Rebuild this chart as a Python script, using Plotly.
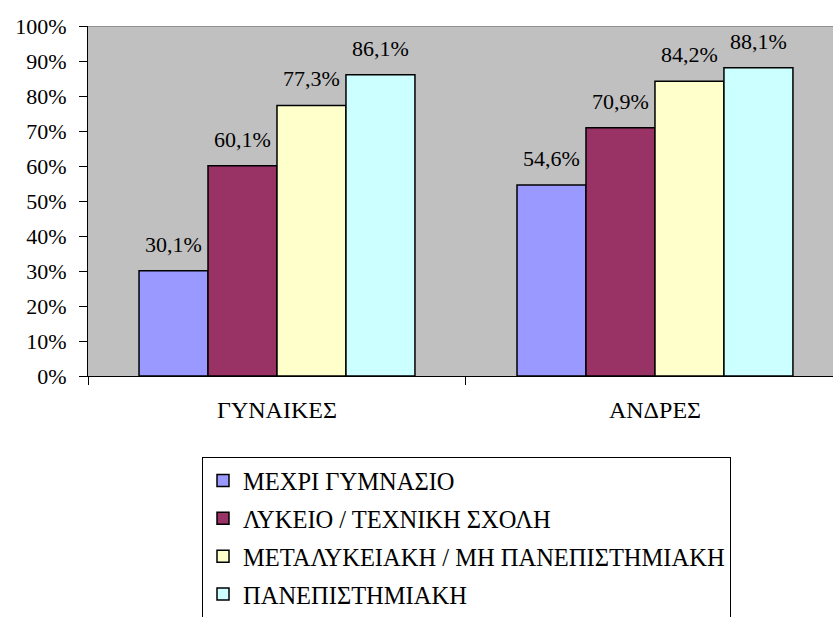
import plotly.graph_objects as go

categorias = ["ΓΥΝΑΙΚΕΣ", "ΑΝΔΡΕΣ"]
series = ["ΜΕΧΡΙ ΓΥΜΝΑΣΙΟ", "ΛΥΚΕΙΟ / ΤΕΧΝΙΚΗ ΣΧΟΛΗ",
          "ΜΕΤΑΛΥΚΕΙΑΚΗ / ΜΗ ΠΑΝΕΠΙΣΤΗΜΙΑΚΗ", "ΠΑΝΕΠΙΣΤΗΜΙΑΚΗ"]
valores = [
    [0.301, 0.546],
    [0.601, 0.709],
    [0.773, 0.842],
    [0.861, 0.881],
]
cores = ["#9999FF", "#993366", "#FFFFCC", "#CCFFFF"]

fonte = "Liberation Serif"
bargap = 0.27
n = len(series)
largura = (1 - bargap) / n

fig = go.Figure()
for i, nome in enumerate(series):
    fig.add_trace(go.Bar(
        x=categorias,
        y=valores[i],
        name=nome,
        legendgroup=nome,
        marker=dict(color=cores[i], line=dict(color="black", width=1.5)),
    ))
    # rotulos acima das barras (formato com virgula)
    for j, v in enumerate(valores[i]):
        fig.add_annotation(
            x=j - (1 - bargap) / 2 + largura * (i + 0.5), y=v,
            xref="x", yref="y",
            text=f"{v*100:.1f}%".replace(".", ","),
            showarrow=False, yanchor="bottom", yshift=12,
            font=dict(family=fonte, size=22, color="black"),
        )

# linha cinza no topo da area do grafico
fig.add_shape(type="line", xref="paper", yref="y", x0=0, x1=1, y0=1, y1=1,
              line=dict(color="#808080", width=1.5))

fig.update_layout(
    template="none",
    width=833, height=617,
    margin=dict(l=88, r=0, t=26, b=241, autoexpand=False),
    paper_bgcolor="white",
    plot_bgcolor="#C0C0C0",
    barmode="group",
    bargap=bargap,
    bargroupgap=0,
    font=dict(family=fonte, size=22, color="black"),
    showlegend=True,
    legend=dict(
        xref="container", yref="container",
        x=202/833, y=1-457/617, xanchor="left", yanchor="top",
        bordercolor="black", borderwidth=1,
        font=dict(family=fonte, size=24.5),
        tracegroupgap=3,
        bgcolor="white",
    ),
    xaxis=dict(
        range=[-0.5, 1.471],
        showline=True, linecolor="black", linewidth=1,
        ticks="outside", tickson="boundaries", ticklen=8, tickcolor="black",
        showgrid=False,
        ticklabelstandoff=12,
        tickfont=dict(family=fonte, size=24),
    ),
    yaxis=dict(
        range=[0, 1],
        dtick=0.1,
        tickformat=".0%",
        showline=True, linecolor="black", linewidth=1,
        ticks="outside", ticklen=8, tickcolor="black",
        showgrid=False, zeroline=False,
        ticklabelstandoff=8,
        tickfont=dict(family=fonte, size=22),
    ),
)

fig.write_html("out.html", config={"displayModeBar": False},
               post_script="document.body.style.margin='0';")
